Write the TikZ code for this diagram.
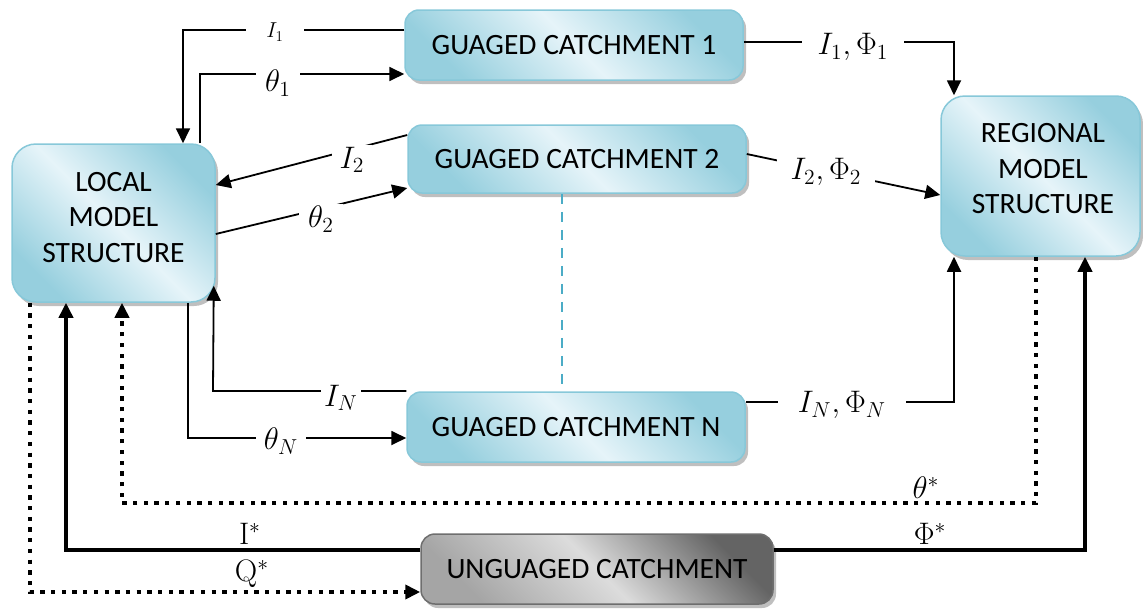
\documentclass[tikz,border=0pt]{standalone}
\usepackage[no-math]{fontspec}
\usepackage{graphicx}
\setmainfont{Carlito}
\usetikzlibrary{arrows.meta,calc,shadows}
\definecolor{bluedark}{RGB}{150,207,222}
\definecolor{bluelight}{RGB}{230,244,249}
\definecolor{boxedge}{RGB}{135,200,217}
\definecolor{greydark}{RGB}{100,100,100}
\definecolor{greymid}{RGB}{165,165,165}
\definecolor{greylight}{RGB}{220,220,220}
\definecolor{greyedge}{RGB}{110,110,110}
\definecolor{dashcyan}{RGB}{75,172,198}
\newcommand{\mlab}[2][1.8]{\scalebox{#1}{\fontsize{17.28}{20}\selectfont$#2$}}
\tikzset{
  boxshadow/.style={drop shadow={shadow xshift=3pt, shadow yshift=-4pt, fill=gray!50, opacity=1}},
  bluebox/.style={rounded corners=14pt, draw=boxedge, line width=1.5pt,
    left color=bluedark, right color=bluedark, middle color=bluelight, shading angle=135,
    boxshadow, inner sep=0pt, align=center, font=\fontsize{29.5}{35}\selectfont},
  greybox/.style={rounded corners=14pt, draw=greyedge, line width=1.5pt,
    left color=greymid, right color=greydark, middle color=greylight, shading angle=135,
    boxshadow, inner sep=0pt, align=center, font=\fontsize{29.5}{35}\selectfont},
  boxtext/.style={align=center, inner sep=0pt, font=\fontsize{29.5}{35.5}\selectfont},
  conn/.style={line width=1.8pt, -{Triangle[length=15pt,width=14pt]}},
  thickconn/.style={line width=3.6pt, -{Triangle[length=15pt,width=14pt]}},
  dotconn/.style={line width=4.3pt, dash pattern=on 4.3pt off 6.4pt, -{Triangle[length=15pt,width=14pt]}},
  cyandash/.style={line width=2.5pt, draw=dashcyan, dash pattern=on 10pt off 8pt},
  lab/.style={fill=white, inner ysep=2pt, inner xsep=6pt},
  plainlab/.style={inner sep=1pt}
}
\begin{document}
\begin{tikzpicture}[x=1pt,y=-1pt]
\useasboundingbox (0,0) rectangle (1143,608);

% boxes
\node[bluebox, minimum width=203pt, minimum height=158pt, rounded corners=24pt] (local) at (113.5,223) {};
\node[boxtext] (localtext) at (113.5,217.5) {LOCAL\\MODEL\\STRUCTURE};
\node[bluebox, minimum width=199pt, minimum height=160pt, rounded corners=24pt] (reg) at (1040.5,176) {};
\node[boxtext] (regtext) at (1043,169) {REGIONAL\\MODEL\\STRUCTURE};
\node[bluebox, minimum width=338pt, minimum height=70pt] (gc1) at (574,45) {GUAGED CATCHMENT 1};
\node[bluebox, minimum width=338pt, minimum height=68pt] (gc2) at (577,159) {GUAGED CATCHMENT 2};
\node[bluebox, minimum width=338pt, minimum height=70pt] (gcn) at (576,427) {GUAGED CATCHMENT N};
\node[greybox, minimum width=352pt, minimum height=70pt] (ung) at (597,569) {UNGUAGED CATCHMENT};

% dashed link between catchments
\draw[cyandash] (562,0 |- gc2.south) -- (562,0 |- gcn.north);

% local <-> gauged
\draw[conn] (gc1.west |- 0,30) -- (183,30) -- (183,0 |- local.north);
\draw[conn] (200,0 |- local.north) -- (200,74) -- (gc1.west |- 0,74);
\draw[conn] (gc2.west |- 0,135) -- (local.east |- 0,185);
\draw[conn] (local.east |- 0,234) -- (gc2.west |- 0,188);
\draw[conn] (gcn.west |- 0,391) -- (213,391) -- ($(local.south east)+(-2,-17)$);
\draw[conn] (188,0 |- local.south) -- (188,438) -- (gcn.west |- 0,438);

% gauged -> regional
\draw[conn] (gc1.east |- 0,42) -- (954,42) -- (954,0 |- reg.north);
\draw[conn] (gc2.east |- 0,154) -- (reg.west |- 0,195);
\draw[conn] (gcn.east |- 0,402) -- (954,402) -- (954,0 |- reg.south);

% ungauged loops
\draw[dotconn] (1036,0 |- reg.south) -- (1036,503) -- (122,503) -- (122,0 |- local.south);
\draw[dotconn] (30,0 |- local.south) -- (30,592) -- (ung.west |- 0,592);
\draw[thickconn] (ung.west |- 0,550) -- (66,550) -- (66,0 |- local.south);
\draw[thickconn] (ung.east |- 0,550) -- (1085,550) -- (1085,0 |- reg.south);

% labels
\node[lab, inner xsep=20pt] (li1) at (275,32) {\mlab[1.25]{I_1}};
\node[lab, inner xsep=9pt] (lt1) at (278,83) {\mlab{\theta_1}};
\node[lab, inner xsep=8pt] (li2) at (352,160) {\mlab{I_2}};
\node[lab, inner xsep=9pt] (lt2) at (321,219) {\mlab{\theta_2}};
\node[lab, inner xsep=3pt] (lin) at (341,398) {\mlab{I_N}};
\node[lab, inner xsep=8pt] (ltn) at (281,441) {\mlab{\theta_N}};
\node[lab, inner xsep=16pt] (lp1) at (853,47) {\mlab{I_1,\Phi_1}};
\node[lab, inner xsep=14pt] (lp2) at (826,172) {\mlab{I_2,\Phi_2}};
\node[lab, inner xsep=20pt] (lpn) at (842,405) {\mlab{I_N,\Phi_N}};
\node[plainlab] (lts) at (926,488) {\mlab{\theta^*}};
\node[plainlab] (lis) at (250,534) {\mlab{\mathrm{I}^*}};
\node[plainlab] (lqs) at (252,574) {\mlab{\mathrm{Q}^*}};
\node[plainlab] (lps) at (930,534) {\mlab{\Phi^*}};
\end{tikzpicture}
\end{document}
